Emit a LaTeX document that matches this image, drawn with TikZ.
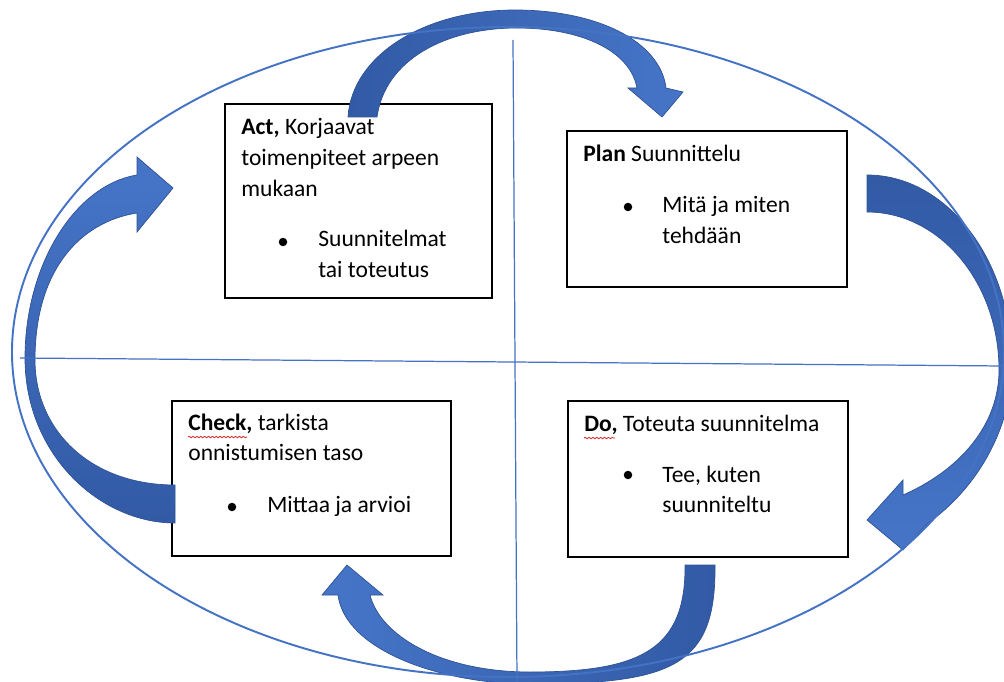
\documentclass[tikz,border=0pt]{standalone}
\usepackage{fontspec}
\setmainfont{Carlito}
\usetikzlibrary{decorations.pathmorphing}
\definecolor{ringblue}{RGB}{68,114,196}
\definecolor{arrowdark}{RGB}{50,90,165}
\definecolor{arrowlight}{RGB}{70,117,200}
\definecolor{arrowedge}{RGB}{47,82,150}
\definecolor{typored}{RGB}{210,50,50}
\newcommand{\boxtext}[1]{\parbox[t]{6cm}{#1}}

\begin{document}
\begin{tikzpicture}[x=0.02cm, y=-0.02cm,
  font=\fontsize{13.4pt}{17.6pt}\selectfont,
  box/.style={rectangle, draw=black, line width=0.8pt, fill=white,
              inner sep=0pt, outer sep=0pt},
  txt/.style={anchor=base west, inner sep=0pt},
  dot/.style={circle, fill=black, inner sep=0pt, minimum size=0.17cm},
  turn/.style={draw=arrowedge, line width=0.4pt},
  ring/.style={draw=ringblue, line width=1.1pt},
  axis/.style={draw=ringblue, line width=0.7pt},
  typo/.style={typored, line width=0.5pt, decorate,
               decoration={snake, amplitude=0.4pt, segment length=2.2pt}}]
  \useasboundingbox (0,0) rectangle (1004,682);
  \clip (0,0) rectangle (1004,682);

  % the four boxes
  \node[box, minimum width=5.34cm, minimum height=3.88cm] (act)   at (358.5,201) {};
  \node[box, minimum width=5.6cm,  minimum height=3.12cm] (plan)  at (707,209) {};
  \node[box, minimum width=5.58cm, minimum height=3.1cm]  (check) at (311.5,478.5) {};
  \node[box, minimum width=5.6cm,  minimum height=3.12cm] (do)    at (708,479) {};

  \node[txt] (acthead) at (241,135) {\boxtext{\textbf{Act,} Korjaavat\\toimenpiteet arpeen\\mukaan}};
  \node[dot] (actdot) at (283,242) {};
  \node[txt] (acttext) at (318,247) {\boxtext{Suunnitelmat\\tai toteutus}};

  \node[txt] (planhead) at (583,162) {\textbf{Plan} Suunnittelu};
  \node[dot] (plandot) at (628,207) {};
  \node[txt] (plantext) at (662,213) {\boxtext{Mitä ja miten\\tehdään}};

  \node[txt] (checkhead) at (188,430) {\boxtext{\textbf{Check,} tarkista\\onnistumisen taso}};
  \node[dot] (checkdot) at (232,507) {};
  \node[txt] (checktext) at (267,512) {Mittaa ja arvioi};

  \node[txt] (dohead) at (584,431) {\textbf{Do,} Toteuta suunnitelma};
  \node[dot] (dodot) at (628,475) {};
  \node[txt] (dotext) at (662,482) {\boxtext{Tee, kuten\\suunniteltu}};

  \draw[typo] ([yshift=-4pt]checkhead.base west) -- ++(59,0);
  \draw[typo] ([yshift=-4pt]dohead.base west) -- ++(31,0);

  % curved block arrows
  \path[turn, left color=arrowdark, right color=arrowlight]
    (348,117) .. controls (352,55) and (425,10) .. (515,10)
    .. controls (595,10) and (660,40) .. (666,88)
    -- (683,92) -- (662,117) -- (628,88) -- (637,88)
    .. controls (630,50) and (580,28) .. (517,28)
    .. controls (445,28) and (385,60) .. (377,117) -- cycle;
  \path[turn, top color=arrowdark, bottom color=arrowlight]
    (867,175) .. controls (947,175) and (1012,260) .. (1012,365)
    .. controls (1012,430) and (975,490) .. (928,523)
    -- (903,550) -- (867,520) -- (903,480) -- (903,495)
    .. controls (960,470) and (999,425) .. (999,370)
    .. controls (999,283) and (940,212) .. (867,212) -- cycle;
  \path[turn, left color=arrowlight, right color=arrowdark]
    (715,565) .. controls (716,665) and (675,684) .. (530,684)
    .. controls (440,684) and (345,650) .. (338,595)
    -- (322,595) -- (347,565) -- (383,595) -- (370,595)
    .. controls (380,635) and (440,672) .. (530,672)
    .. controls (640,672) and (686,650) .. (685,565) -- cycle;
  \path[turn, top color=arrowlight, bottom color=arrowdark]
    (175,523) .. controls (100,523) and (25,455) .. (25,358)
    .. controls (25,265) and (75,185) .. (137,175)
    -- (137,157) -- (173,188) -- (137,232) -- (137,213)
    .. controls (80,222) and (35,270) .. (35,360)
    .. controls (35,430) and (90,485) .. (175,485) -- cycle;

  % ellipse and cross
  \draw[ring] (508,352) ellipse [x radius=496, y radius=325];
  \draw[axis] (513,40) -- (517,682);
  \draw[axis] (20,358) -- (1004,366);
\end{tikzpicture}
\end{document}
